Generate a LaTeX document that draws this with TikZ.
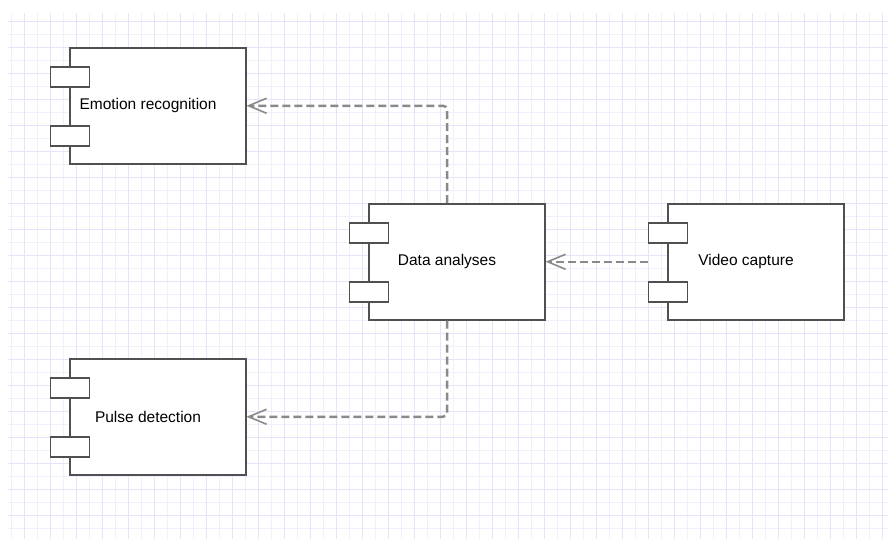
\documentclass[tikz,border=0pt]{standalone}
\usepackage{fontspec}
\setmainfont{Liberation Sans}
\usetikzlibrary{arrows.meta}
\definecolor{gridmajor}{HTML}{E4E4FB}
\definecolor{gridminor}{HTML}{F0F0FC}
\definecolor{boxline}{HTML}{505050}
\definecolor{linkgray}{HTML}{8A8A8A}

\tikzset{
  compbody/.style={draw=boxline, fill=white, line width=1.5pt, inner sep=0pt,
    minimum width=176pt, minimum height=116pt, anchor=north west},
  compport/.style={draw=boxline, fill=white, line width=1.5pt, inner sep=0pt,
    minimum width=39pt, minimum height=20pt, anchor=north west},
  complabel/.style={inner sep=0pt, font=\fontsize{15.5}{18}\selectfont},
  dep/.style={draw=linkgray, line width=2.5pt, dash pattern=on 8pt off 4pt,
    rounded corners=4pt,
    -{Straight Barb[length=18pt, width=15pt, line width=1.6pt]}},
}

% UML component: name, left edge of body, top edge of body, label
\newcommand\umlcomponent[4]{%
  \node[compbody] (#1) at (#2,#3) {};
  \node[compport] (#1p1) at (#2-19.5,#3+19) {};
  \node[compport] (#1p2) at (#2-19.5,#3+78) {};
  \node[complabel, xshift=-9.75pt] (#1t) at (#1.center) {#4};
}

\begin{document}
\begin{tikzpicture}[x=1pt, y=-1pt]
\useasboundingbox (0,0) rectangle (888,539);
\fill[white] (0,0) rectangle (888,539);

% background grid
\begin{scope}
  \clip (8,13) rectangle (888,539);
  \foreach \x in {11,37,...,887} \draw[gridminor, line width=1pt] (\x,13) -- (\x,539);
  \foreach \y in {8,34,...,539} \draw[gridminor, line width=1pt] (8,\y) -- (888,\y);
  \foreach \x in {24,50,...,887} \draw[gridmajor, line width=1pt] (\x,13) -- (\x,539);
  \foreach \y in {21,47,...,539} \draw[gridmajor, line width=1pt] (8,\y) -- (888,\y);
\end{scope}

% components
\umlcomponent{er}{69}{47}{Emotion recognition}
\umlcomponent{da}{368}{203}{Data analyses}
\umlcomponent{vc}{667}{203}{Video capture}
\umlcomponent{pd}{69}{358}{Pulse detection}

% dependencies
\draw[dep] (da.north -| dat) |- (er.east);
\draw[dep] (vcp1.west |- vc.west) -- (da.east);
\draw[dep] (da.south -| dat) |- (pd.east);
\end{tikzpicture}
\end{document}
